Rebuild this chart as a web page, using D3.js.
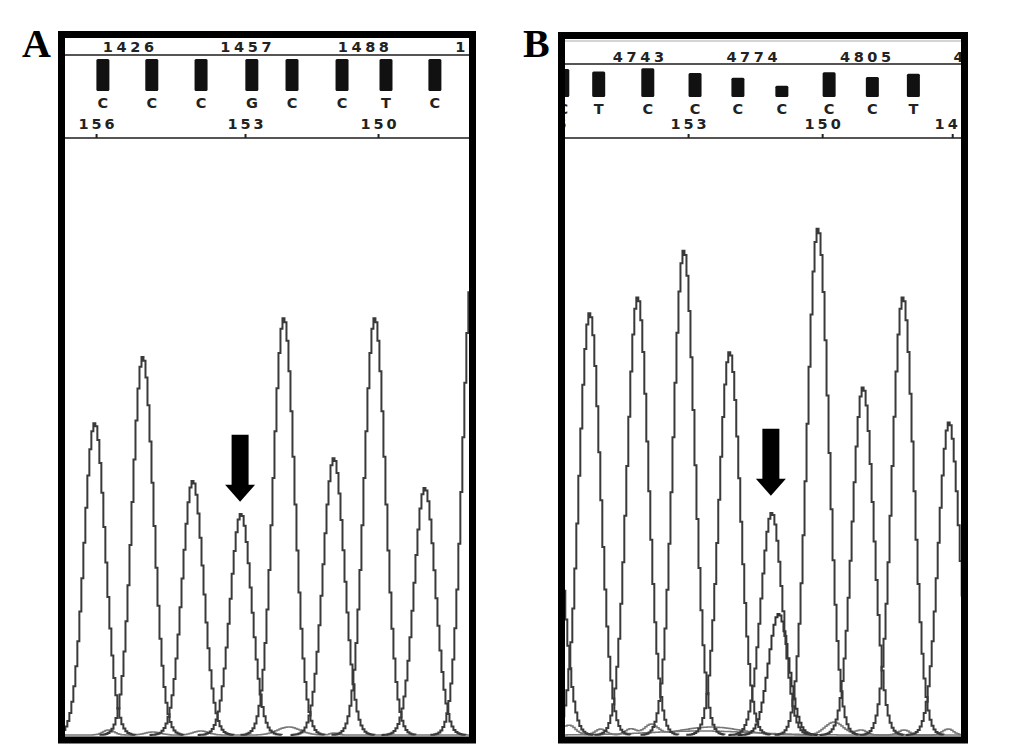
<!DOCTYPE html>
<html><head><meta charset="utf-8">
<script src="https://cdn.jsdelivr.net/npm/d3@7"></script>
<style>html,body{margin:0;padding:0;background:#fff}</style>
</head><body>
<svg id="chart" width="1033" height="752"></svg>
<script>
// ---------------- data ----------------
const panelLabels = ["A", "B"];

const scanTicksA = [1426, 1457, 1488, 1519];
const scanTicksB = [4743, 4774, 4805, 4836];

const baseCallsA = ["C", "C", "C", "G", "C", "C", "T", "C"];
const baseCallScanA = [1419.4, 1432.3, 1445.3, 1458.7, 1469.3, 1482.5, 1494.1, 1507.0];
const baseQualA = [40, 40, 40, 40, 40, 40, 40, 40];

const baseCallsB = ["C", "T", "C", "C", "C", "C", "C", "C", "T"];
const baseCallScanB = [4722.5, 4732.3, 4745.7, 4758.6, 4770.3, 4782.3, 4795.2, 4807.0, 4818.2];
const baseQualB = [35, 32, 36, 30, 24, 14, 31, 25, 29];

const baseNumA = [156, 153, 150];
const baseNumScanA = [1417.6, 1456.9, 1492.0];
const baseNumB = [156, 153, 150, 147];
const baseNumScanB = [4718.4, 4756.7, 4793.3, 4828.8];

const peakScanA = [1417.0, 1429.7, 1442.9, 1455.6, 1466.9, 1480.1, 1490.9, 1504.1, 1517.0];
const peakHeightA = [626, 759, 510, 444, 837, 556, 837, 496, 970];
const mutationPeakA = 3;

const peakScanB = [4719.5, 4729.6, 4742.7, 4755.3, 4767.8, 4779.3, 4791.9, 4804.2, 4815.1, 4827.7];
const peakHeightB = [520, 847, 879, 973, 769, 446, 1017, 698, 879, 628];
const minorPeakScanB = [4781.2];
const minorPeakHeightB = [243];
const mutationPeakB = 5;

const noiseScanA = [1420.7, 1432.3, 1445.0, 1468.2, 1480.1];
const noiseHeightA = [10, 6, 8, 16, 4];
const noiseWidthA = [1.5, 2, 2, 3, 1];

const noiseScanB = [4723.9, 4732.6, 4740.8, 4746.3, 4762.7, 4796.3, 4803.7, 4815.4, 4827.4];
const noiseHeightB = [20, 12, 12, 20, 16, 26, 10, 10, 12];
const noiseWidthB = [1.8, 1.5, 1.5, 1.8, 8, 2.5, 1.5, 1.5, 1.5];
const lowTraceScanB = [4760];
const lowTraceHeightB = [8];
const lowTraceWidthB = [14];

// ---------------- layout ----------------
const svg = d3.select("#chart");
svg.append("rect").attr("width", 1033).attr("height", 752).attr("fill", "#fff");

const panels = [
  {
    label: panelLabels[0], labelX: 22,
    outer: {x0: 58, x1: 476, y0: 31, y1: 743.5},
    inner: {x0: 65, x1: 469, y0: 38, y1: 736.5},
    scanDomain: [1409.4, 1516.0],
    sigma: 2.8,
    scanTicks: scanTicksA, scanY: 51.5, topLine: 55, thinTop: null,
    calls: baseCallsA, callScan: baseCallScanA, qual: baseQualA, barBottom: 91, letterY: 107.5,
    baseNum: baseNumA, baseNumScan: baseNumScanA, axisY: 138,
    peakScan: peakScanA, peakHeight: peakHeightA, mut: mutationPeakA,
    minorScan: [], minorHeight: [],
    noise: [{s: noiseScanA, h: noiseHeightA, w: noiseWidthA}],
    arrowGap: 12
  },
  {
    label: panelLabels[1], labelX: 523,
    outer: {x0: 558, x1: 968, y0: 32, y1: 743.5},
    inner: {x0: 565, x1: 961, y0: 39, y1: 736.5},
    scanDomain: [4723.1, 4831.2],
    sigma: 2.9,
    scanTicks: scanTicksB, scanY: 61.5, topLine: 64, thinTop: 41,
    calls: baseCallsB, callScan: baseCallScanB, qual: baseQualB, barBottom: 97, letterY: 113.5,
    baseNum: baseNumB, baseNumScan: baseNumScanB, axisY: 138,
    peakScan: peakScanB, peakHeight: peakHeightB, mut: mutationPeakB,
    minorScan: minorPeakScanB, minorHeight: minorPeakHeightB,
    noise: [{s: noiseScanB, h: noiseHeightB, w: noiseWidthB},
            {s: lowTraceScanB, h: lowTraceHeightB, w: lowTraceWidthB}],
    arrowGap: 17
  }
];

const hdrFont = "'DejaVu Sans', Verdana, sans-serif";
const hdrSize = 14.5;

panels.forEach((p, pi) => {
  const g = svg.append("g");
  const clipId = "clip" + pi;
  svg.append("clipPath").attr("id", clipId).append("rect")
    .attr("x", p.inner.x0).attr("y", p.inner.y0)
    .attr("width", p.inner.x1 - p.inner.x0).attr("height", p.inner.y1 - p.inner.y0);

  const sx = d3.scaleLinear().domain(p.scanDomain).range([p.inner.x0, p.inner.x1]);
  const sy = d3.scaleLinear().domain([0, 1200]).range([735, 137]);
  const sq = d3.scaleLinear().domain([0, 40]).range([0, 32]);

  const content = g.append("g").attr("clip-path", `url(#${clipId})`);

  if (p.thinTop !== null) {
    content.append("line").attr("x1", p.inner.x0).attr("x2", p.inner.x1)
      .attr("y1", p.thinTop).attr("y2", p.thinTop)
      .attr("stroke", "#aaa").attr("stroke-width", 1.2);
  }

  // scan number axis (top row)
  const scanAxis = d3.axisTop(sx).tickValues(p.scanTicks).tickSize(0).tickPadding(4)
    .tickFormat(d3.format("d"));
  const sa = content.append("g").attr("transform", `translate(0,${p.topLine})`).call(scanAxis);
  sa.select(".domain").attr("stroke", "#555").attr("stroke-width", 2)
    .attr("d", `M${p.inner.x0},0H${p.inner.x1}`);
  sa.selectAll("text").attr("font-family", hdrFont).attr("font-weight", "bold")
    .attr("font-size", hdrSize).attr("letter-spacing", 3.6).attr("fill", "#222")
    .attr("dy", 0).attr("y", p.scanY - p.topLine).attr("dx", 1.8);

  // quality bars
  content.selectAll(".qbar").data(p.callScan).join("rect")
    .attr("x", d => sx(d) - 6.5)
    .attr("width", 13)
    .attr("y", (d, i) => p.barBottom - sq(p.qual[i]))
    .attr("height", (d, i) => sq(p.qual[i]))
    .attr("rx", 1.5)
    .attr("fill", "#111");

  // base letters
  content.selectAll(".call").data(p.callScan).join("text")
    .attr("x", d => sx(d)).attr("y", p.letterY)
    .attr("text-anchor", "middle")
    .attr("font-family", hdrFont).attr("font-weight", "bold").attr("font-size", hdrSize)
    .attr("fill", "#222")
    .text((d, i) => p.calls[i]);

  // base number axis
  const numAxis = d3.axisTop(sx).tickValues(p.baseNumScan).tickSize(4).tickPadding(5.5)
    .tickFormat((d, i) => p.baseNum[i]);
  const na = content.append("g").attr("transform", `translate(0,${p.axisY})`).call(numAxis);
  na.select(".domain").attr("stroke", "#555").attr("stroke-width", 2)
    .attr("d", `M${p.inner.x0},0H${p.inner.x1}`);
  na.selectAll(".tick line").attr("stroke", "#222").attr("stroke-width", 2);
  na.selectAll("text").attr("font-family", hdrFont).attr("font-weight", "bold")
    .attr("font-size", hdrSize).attr("letter-spacing", 3).attr("fill", "#222").attr("dx", 1.5);

  // traces
  const stepPx = 2;
  const line = d3.line().x(d => d[0]).y(d => d[1]).curve(d3.curveStepAfter);
  const peakPoints = (mu, h, sig) => {
    const pts = [];
    const c = sx(mu), half = (sx(mu + 4 * sig) - c);
    for (let px = c - half; px <= c + half + 0.01; px += stepPx) {
      const s = sx.invert(px);
      const v = h * Math.exp(-((s - mu) ** 2) / (2 * sig * sig));
      pts.push([px, sy(v)]);
    }
    return pts;
  };

  const traces = content.append("g");
  p.noise.forEach(n => {
    const pts = [];
    for (let px = p.inner.x0; px <= p.inner.x1; px += stepPx) {
      const s = sx.invert(px);
      let v = 0;
      n.s.forEach((mu, i) => { v += n.h[i] * Math.exp(-((s - mu) ** 2) / (2 * n.w[i] * n.w[i])); });
      pts.push([px, sy(v)]);
    }
    traces.append("path").attr("d", line(pts)).attr("fill", "none")
      .attr("stroke", "#777").attr("stroke-width", 1.5);
  });

  p.minorScan.forEach((mu, i) => {
    traces.append("path").attr("d", line(peakPoints(mu, p.minorHeight[i], p.sigma * 0.95)))
      .attr("fill", "none").attr("stroke", "#333").attr("stroke-width", 2);
  });
  p.peakScan.forEach((mu, i) => {
    traces.append("path").attr("d", line(peakPoints(mu, p.peakHeight[i], p.sigma)))
      .attr("fill", "none").attr("stroke", "#3a3a3a").attr("stroke-width", 2);
  });

  // arrow over mutation peak
  const ax = sx(p.peakScan[p.mut]);
  const tipY = sy(p.peakHeight[p.mut]) - p.arrowGap;
  const arrow = [
    [ax - 8.5, tipY - 67], [ax + 8.5, tipY - 67], [ax + 8.5, tipY - 17],
    [ax + 15, tipY - 17], [ax, tipY], [ax - 15, tipY - 17], [ax - 8.5, tipY - 17]
  ];
  g.append("polygon").attr("points", arrow.map(d => d.join(",")).join(" ")).attr("fill", "#000");

  // frame
  g.append("rect")
    .attr("x", p.outer.x0 + 3.5).attr("y", p.outer.y0 + 3.5)
    .attr("width", p.outer.x1 - p.outer.x0 - 7).attr("height", p.outer.y1 - p.outer.y0 - 7)
    .attr("fill", "none").attr("stroke", "#000").attr("stroke-width", 7);

  // panel label
  svg.append("text").attr("x", p.labelX).attr("y", 57)
    .attr("font-family", "'Liberation Serif', 'Times New Roman', serif")
    .attr("font-weight", "bold").attr("font-size", 40).attr("fill", "#000")
    .text(p.label);
});
</script>
</body></html>
